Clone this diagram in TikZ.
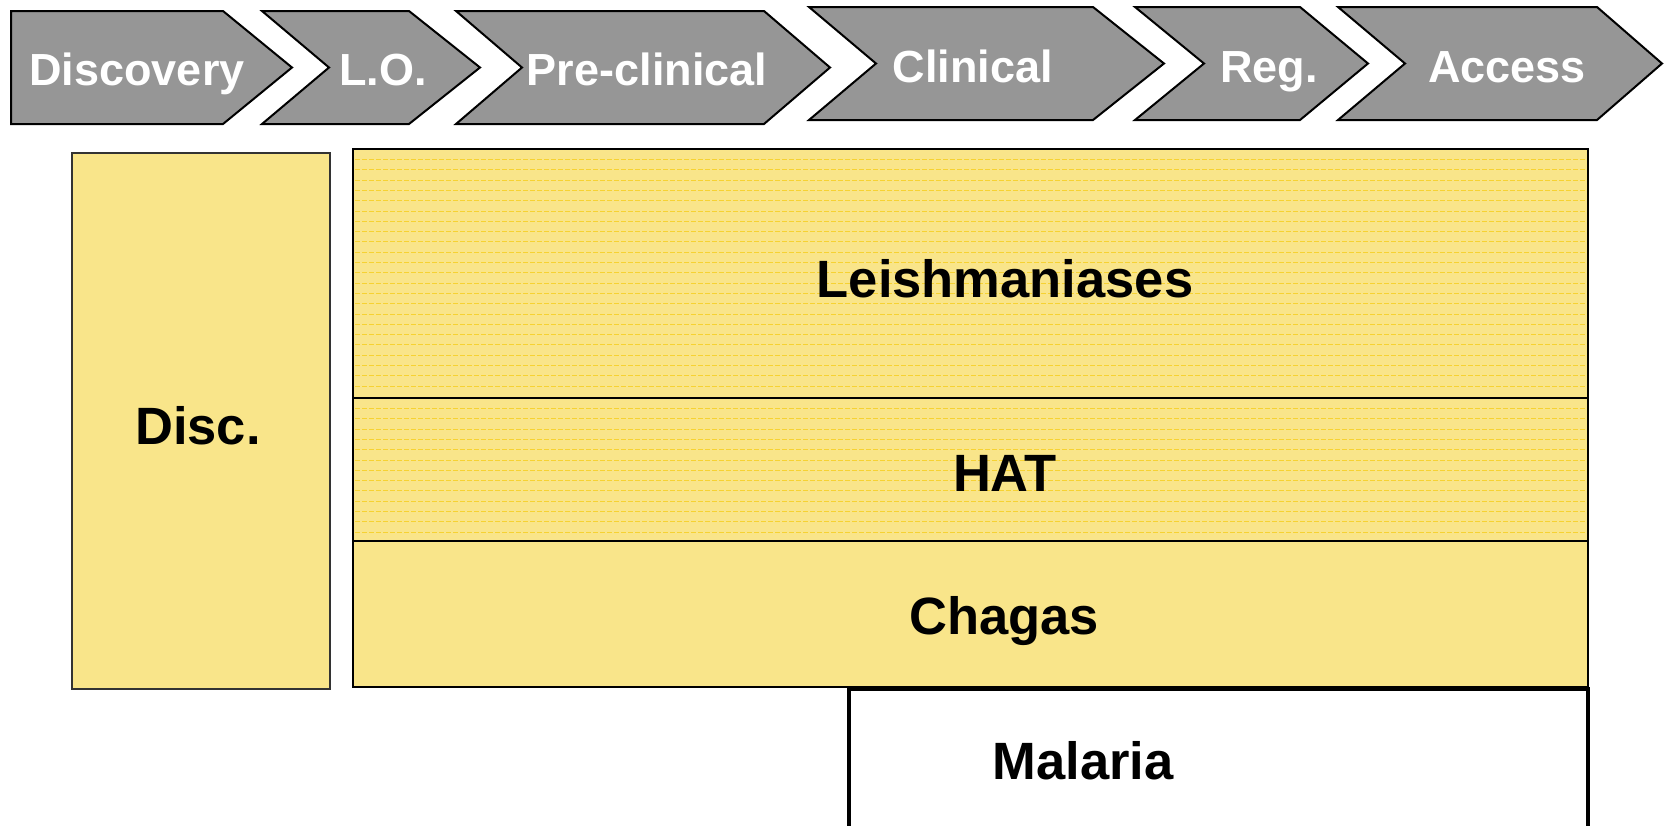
\documentclass[tikz,border=0pt]{standalone}
\usepackage{fontspec}
\setmainfont{Liberation Sans}
\begin{document}
\begin{tikzpicture}[x=1pt,y=-1pt,
  chev/.style={draw=black,line width=2pt,fill=chevgray,line join=miter},
  chevtext/.style={text=white,font=\fontsize{45}{50}\selectfont\bfseries,inner sep=0pt,anchor=base},
  boxtext/.style={text=black,font=\fontsize{52.5}{60}\selectfont\bfseries,inner sep=0pt,anchor=base},
  yellowbox/.style={fill=boxyellow,draw=black,line width=1.8pt},
  hatchline/.style={draw=hatchgold,line width=1pt,dash pattern=on 5pt off 2pt}]
\definecolor{chevgray}{RGB}{150,150,150}
\definecolor{boxyellow}{RGB}{249,229,138}
\definecolor{hatchgold}{RGB}{246,210,50}
\useasboundingbox (0,0) rectangle (1664,825);
\fill[white] (0,0) rectangle (1664,825);

% chevrons
\draw[chev] (11,11) -- (223,11) -- (292,67.5) -- (223,124) -- (11,124) -- cycle;
\draw[chev] (262,11) -- (409,11) -- (480,67.5) -- (409,124) -- (262,124) -- (329,67.5) -- cycle;
\draw[chev] (456,11) -- (764,11) -- (830,67.5) -- (764,124) -- (456,124) -- (522,67.5) -- cycle;
\draw[chev] (809,7) -- (1093,7) -- (1164,63.5) -- (1093,120) -- (809,120) -- (876,63.5) -- cycle;
\draw[chev] (1135,7) -- (1300,7) -- (1368,63.5) -- (1300,120) -- (1135,120) -- (1204,63.5) -- cycle;
\draw[chev] (1338,7) -- (1597,7) -- (1662,63.5) -- (1597,120) -- (1338,120) -- (1405,63.5) -- cycle;

\node[chevtext] (discovery) at (137,85) {Discovery};
\node[chevtext] (lo) at (383,85) {L.O.};
\node[chevtext] (preclinical) at (647,85) {Pre-clinical};
\node[chevtext] (clinical) at (973,82) {Clinical};
\node[chevtext] (reg) at (1269,82) {Reg.};
\node[chevtext] (access) at (1507,82) {Access};

% Disc. box
\draw[yellowbox,draw=black!80] (72,153) rectangle (330,689);
\node[boxtext] (disc) at (198,444) {Disc.};

% big box rows
\fill[boxyellow] (353,149) rectangle (1588,687);
\foreach \yy in {159.5,169.8,...,395} {\draw[hatchline] (355,\yy) -- (1586,\yy);}
\foreach \yy in {408.5,418.8,...,538} {\draw[hatchline] (355,\yy) -- (1586,\yy);}
\draw[black,line width=1.8pt] (353,149) rectangle (1588,687);
\draw[black,line width=2pt] (353,398) -- (1588,398);
\draw[black,line width=2pt] (353,541) -- (1588,541);

\node[boxtext] (leish) at (1005,297) {Leishmaniases};
\node[boxtext] (hat) at (1005,491) {HAT};
\node[boxtext] (chagas) at (1004,634) {Chagas};

% Malaria box
\draw[black,line width=4pt,fill=white] (849,840) -- (849,689) -- (1588,689) -- (1588,840);
\node[boxtext] (malaria) at (1083,779) {Malaria};
\end{tikzpicture}
\end{document}
